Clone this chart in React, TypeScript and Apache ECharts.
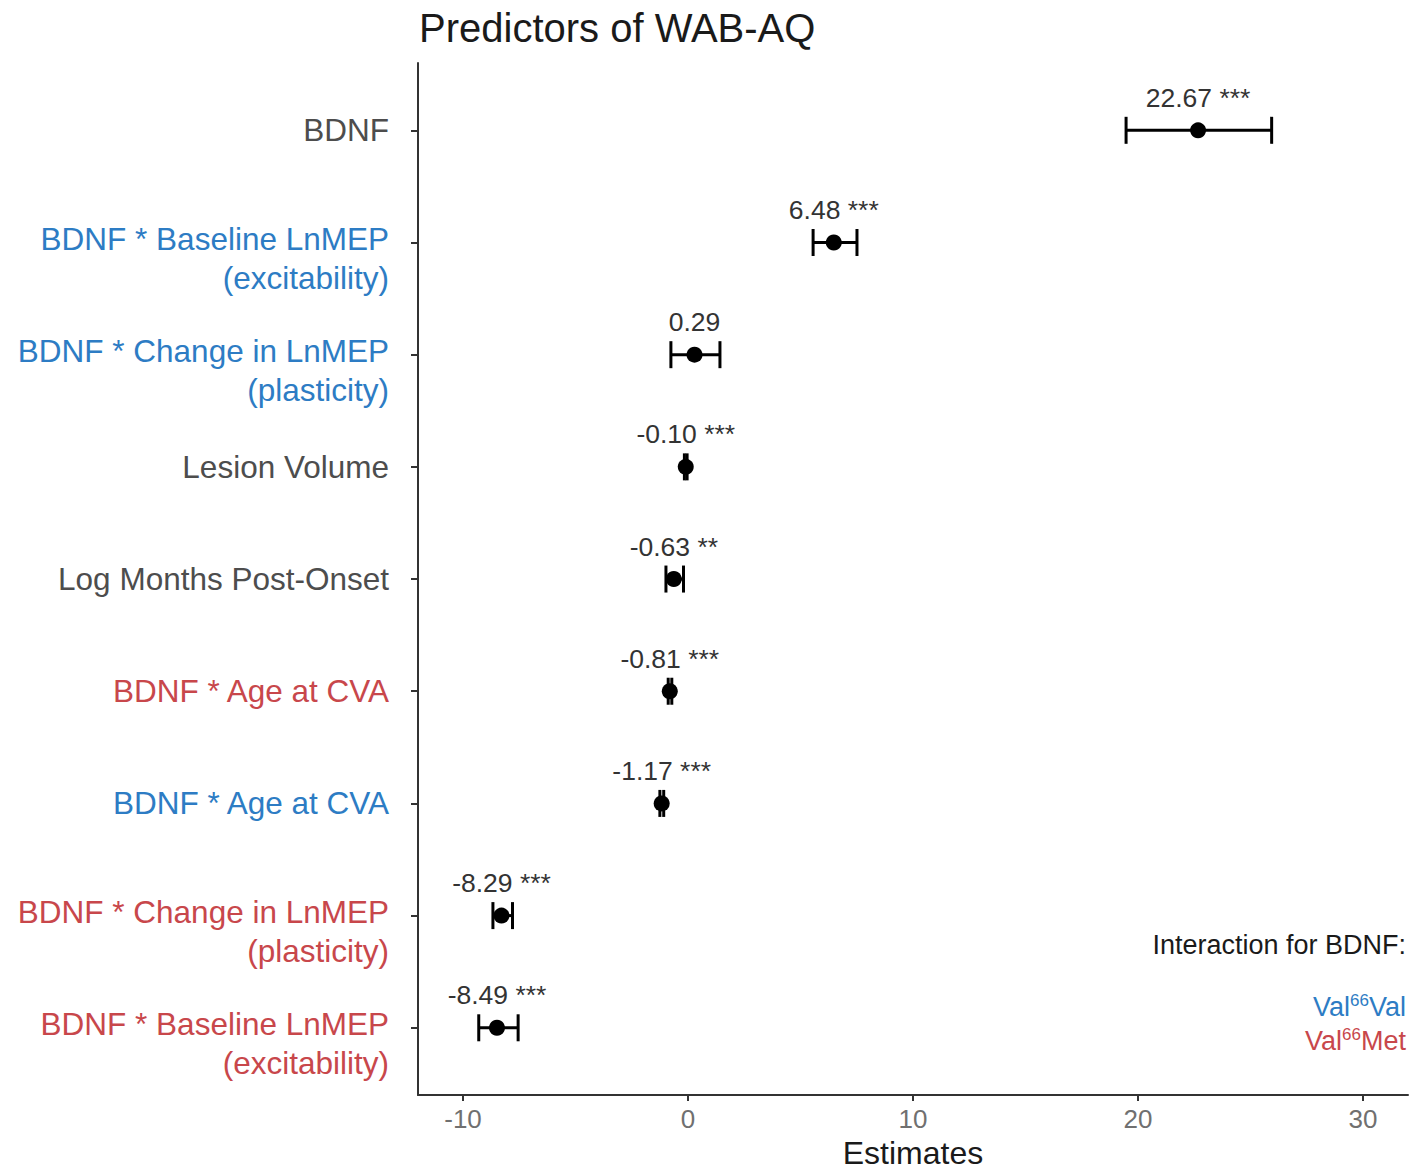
import React, { useEffect, useRef } from "react";
import * as echarts from "echarts";

const predictors = [
  "BDNF",
  "BDNF * Baseline LnMEP\n(excitability)",
  "BDNF * Change in LnMEP\n(plasticity)",
  "Lesion Volume",
  "Log Months Post-Onset",
  "BDNF * Age at CVA",
  "BDNF * Age at CVA",
  "BDNF * Change in LnMEP\n(plasticity)",
  "BDNF * Baseline LnMEP\n(excitability)",
];
const genotype = ["none", "valval", "valval", "none", "none", "valmet", "valval", "valmet", "valmet"];
const estimates = [22.67, 6.48, 0.29, -0.1, -0.63, -0.81, -1.17, -8.29, -8.49];
const ciLow = [19.47, 5.56, -0.76, -0.16, -0.98, -0.88, -1.25, -8.67, -9.3];
const ciHigh = [25.94, 7.51, 1.42, -0.04, -0.2, -0.72, -1.08, -7.8, -7.55];
const significance = ["***", "***", "", "***", "**", "***", "***", "***", "***"];
const xTicks = [-10, 0, 10, 20, 30];
const rowPositions = [1, 2, 3, 4, 5, 6, 7, 8, 9];

const FONT = '"Liberation Sans", Arial, Helvetica, sans-serif';
const GRAY = "#4d4d4d";
const BLUE = "#2d7cc4";
const RED = "#c8474b";

export default function App() {
  const ref = useRef<HTMLDivElement>(null);
  useEffect(() => {
    document.body.style.margin = "0";
    const chart = echarts.init(ref.current!, null, { renderer: "svg" });
    const styleKey: Record<string, string> = { none: "g", valval: "b", valmet: "r" };
    const labelText = { fontSize: 31.5, lineHeight: 39, fontFamily: FONT };
    chart.setOption({
      animation: false,
      textStyle: { fontFamily: FONT },
      title: {
        text: "Predictors of WAB-AQ",
        left: 414,
        top: 3,
        textStyle: { fontSize: 40, fontWeight: "normal", color: "#1a1a1a", fontFamily: FONT },
      },
      grid: { left: 418, right: 4, top: 63, bottom: 72, containLabel: false },
      xAxis: {
        type: "value",
        min: -12,
        max: 32,
        name: "Estimates",
        nameLocation: "middle",
        nameGap: 39,
        nameTextStyle: { fontSize: 32, color: "#1a1a1a", fontFamily: FONT },
        axisLine: { show: true, onZero: false, lineStyle: { color: "#333", width: 2 } },
        axisTick: { show: true, length: 6, customValues: xTicks, lineStyle: { color: "#333", width: 2 } },
        axisLabel: { customValues: xTicks, margin: 11, fontSize: 26, color: "#707070", fontFamily: FONT },
        splitLine: { show: false },
      },
      yAxis: {
        type: "value",
        inverse: true,
        min: 0.4,
        max: 9.6,
        axisLine: { show: true, onZero: false, lineStyle: { color: "#333", width: 2 } },
        axisTick: { show: true, length: 7, customValues: rowPositions, lineStyle: { color: "#333", width: 2 } },
        axisLabel: {
          customValues: rowPositions,
          margin: 29,
          formatter: (v: number) => {
            const i = Math.round(v) - 1;
            const k = styleKey[genotype[i]];
            const lines = predictors[i].split("\n");
            if (lines.length > 1) {
              return "{sp| }\n" + lines.map((l) => `{${k}|${l}}`).join("\n");
            }
            return `{${k}|${lines[0]}}`;
          },
          rich: {
            sp: { fontSize: 1, lineHeight: 32 },
            g: { ...labelText, color: GRAY },
            b: { ...labelText, color: BLUE },
            r: { ...labelText, color: RED },
          },
        },
        splitLine: { show: false },
      },
      series: [
        {
          type: "custom",
          data: rowPositions.map((r, i) => [ciLow[i], r, ciHigh[i]]),
          encode: { x: [0, 2], y: 1 },
          renderItem: (params: any, api: any) => {
            const lo = api.value(0);
            const y = api.value(1);
            const hi = api.value(2);
            const p1 = api.coord([lo, y]);
            const p2 = api.coord([hi, y]);
            const h = 13.5;
            const style = { stroke: "#000", lineWidth: 3, fill: "none" };
            return {
              type: "group",
              children: [
                { type: "line", shape: { x1: p1[0], y1: p1[1], x2: p2[0], y2: p2[1] }, style },
                { type: "line", shape: { x1: p1[0], y1: p1[1] - h, x2: p1[0], y2: p1[1] + h }, style },
                { type: "line", shape: { x1: p2[0], y1: p2[1] - h, x2: p2[0], y2: p2[1] + h }, style },
              ],
            };
          },
          z: 2,
        },
        {
          type: "scatter",
          data: rowPositions.map((r, i) => [estimates[i], r]),
          symbol: "circle",
          symbolSize: 16,
          itemStyle: { color: "#000", opacity: 1 },
          z: 3,
          label: {
            show: true,
            position: "top",
            distance: 11,
            fontSize: 26.5,
            color: "#333",
            fontFamily: FONT,
            formatter: (p: any) => {
              const i = p.dataIndex;
              const s = significance[i];
              return estimates[i].toFixed(2) + (s ? " " + s : "");
            },
          },
        },
      ],
      graphic: [
        {
          type: "text",
          right: 6,
          top: 931,
          style: { text: "Interaction for BDNF:", font: `27px ${FONT}`, fill: "#1a1a1a" },
        },
        {
          type: "text",
          right: 6,
          top: 992,
          style: {
            text: "{m|Val}{s|66}{m|Val}",
            rich: {
              m: { fontSize: 27, lineHeight: 30, fontFamily: FONT, fill: BLUE, color: BLUE },
              s: { fontSize: 17, lineHeight: 30, verticalAlign: "top", fontFamily: FONT, fill: BLUE, color: BLUE },
            },
          },
        },
        {
          type: "text",
          right: 6,
          top: 1026,
          style: {
            text: "{m|Val}{s|66}{m|Met}",
            rich: {
              m: { fontSize: 27, lineHeight: 30, fontFamily: FONT, fill: RED, color: RED },
              s: { fontSize: 17, lineHeight: 30, verticalAlign: "top", fontFamily: FONT, fill: RED, color: RED },
            },
          },
        },
      ],
    });
    return () => chart.dispose();
  }, []);
  return (
    <div
      ref={ref}
      style={{ position: "absolute", left: 0, top: 0, width: 1412, height: 1174 }}
    />
  );
}
